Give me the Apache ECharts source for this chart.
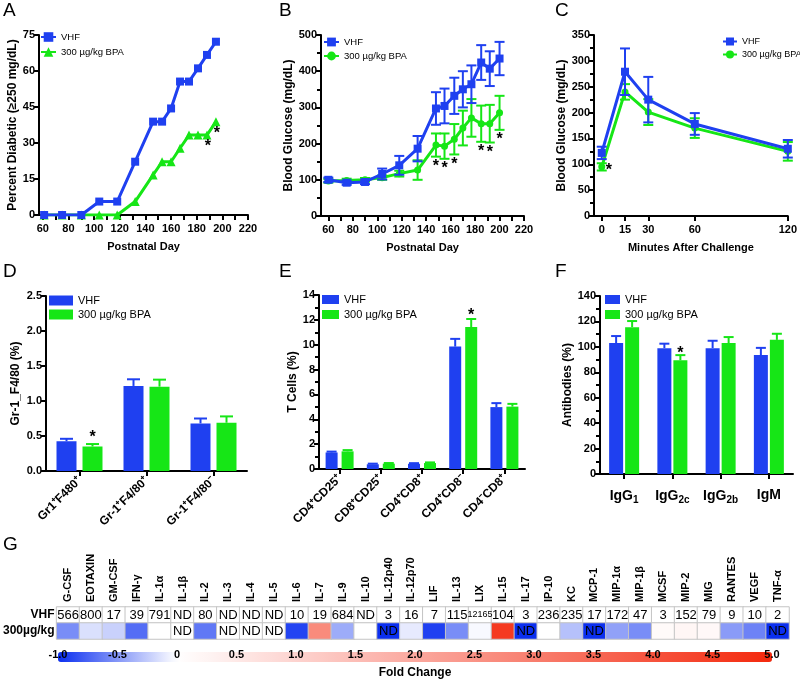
<!DOCTYPE html>
<html><head><meta charset="utf-8">
<script src="https://cdn.jsdelivr.net/npm/echarts@6/dist/echarts.min.js"></script>
<style>html,body{margin:0;padding:0;background:#fff}#c{width:800px;height:680px}</style>
</head><body><div id="c"></div>
<script>
// ---------- DATA ----------
// A: percent diabetic
const daysA = [61,75,90,104,118,132,146,153,160,167,174,181,188,195];
const diabeticVHF = [0,0,0,5.6,5.6,22.2,38.9,38.9,44.4,55.6,55.6,61.1,66.7,72.2];
const diabeticBPA = [0,0,0,0,0,5.6,16.7,22.2,22.2,27.8,33.3,33.3,33.3,38.9];
const sigA = [0,0,0,0,0,0,0,0,0,0,0,0,1,1];
const xLabelsA = [60,80,100,120,140,160,180,200,220];
const xTicksA = [60,70,80,90,100,110,120,130,140,150,160,170,180,190,200,210,220];
// B: blood glucose
const daysB = [60,75,90,104,118,133,148,155,163,170,177,185,192,200];
const glucoseVHF = [100,92,94,116,140,186,297,304,332,350,364,424,407,435];
const glucoseVHFErr = [6,6,6,15,26,35,45,48,50,50,52,48,48,46];
const glucoseBPA = [97,98,100,106,117,127,196,193,212,243,271,255,255,285];
const glucoseBPAErr = [5,5,5,6,8,27,32,35,42,48,52,50,52,47];
const sigB = [0,0,0,0,0,0,1,1,1,0,0,1,1,1];
const xLabelsB = [60,80,100,120,140,160,180,200,220];
const xTicksB = [60,70,80,90,100,110,120,130,140,150,160,170,180,190,200,210,220];
// C: glucose tolerance
const minutesC = [0,15,30,60,120];
const gttVHF = [122,279,225,178,130];
const gttVHFErr = [12,45,44,21,17];
const gttBPA = [95,240,201,170,125];
const gttBPAErr = [7,15,25,19,18];
const sigC = [1,0,0,0,0];
const xLabelsC = [0,15,30,60,120];
// D: Gr-1 / F4/80
const grCats = ['Gr1⁺F480⁺','Gr-1⁺F4/80⁺','Gr-1⁺F4/80⁻'];
const grVHF = [0.425,1.215,0.68];
const grVHFErr = [0.035,0.095,0.07];
const grBPA = [0.35,1.205,0.69];
const grBPAErr = [0.035,0.10,0.09];
const sigD = [1,0,0];
// E: T cells
const tCats = ['CD4⁺CD25⁺','CD8⁺CD25⁺','CD4⁺CD8⁺','CD4⁺CD8⁻','CD4⁻CD8⁺'];
const tVHF = [1.33,0.38,0.42,9.85,4.98];
const tVHFErr = [0.07,0.05,0.05,0.62,0.32];
const tBPA = [1.42,0.43,0.48,11.42,5.02];
const tBPAErr = [0.1,0.05,0.05,0.65,0.22];
const sigE = [0,0,0,1,0];
// F: antibodies
const abCats = ['IgG1','IgG2c','IgG2b','IgM'];
const abVHF = [103,99,99,93.5];
const abVHFErr = [5.5,3.5,5.8,5.7];
const abBPA = [115.5,89.5,103,105.5];
const abBPAErr = [4.8,4,4.7,4.8];
const sigF = [0,1,0,0];
// G: cytokines
const cytokines = ['G-CSF','EOTAXIN','GM-CSF','IFN-γ','IL-1α','IL-1β','IL-2','IL-3','IL-4','IL-5','IL-6','IL-7','IL-9','IL-10','IL-12p40','IL-12p70','LIF','IL-13','LIX','IL-15','IL-17','IP-10','KC','MCP-1','MIP-1α','MIP-1β','MCSF','MIP-2','MIG','RANTES','VEGF','TNF-α'];
const vhfConc = ['566','800','17','39','791','ND','80','ND','ND','ND','10','19','684','ND','3','16','7','115','12165','104','3','236','235','17','172','47','3','152','79','9','10','2'];
const bpaFold = [-0.55,-0.15,-0.22,-0.7,0,0,-0.65,0,0,0,-0.9,2.7,-0.4,0,-1,-0.1,-0.92,-0.55,-0.03,4.6,-1,0,-0.3,-1,-0.45,-0.55,0.12,0.2,0.15,-0.48,-0.6,-1];
const bpaText = ['','','','','','ND','','ND','ND','ND','','','','','ND','','','','','','ND','','','ND','','','','','','','','ND'];
const rowNames = ['300µg/kg','VHF'];
const foldTicks = [-1,-0.5,0,0.5,1,1.5,2,2.5,3,3.5,4,4.5,5];

// ---------- STYLE ----------
const FN = '"Liberation Sans Narrow","Arial Narrow","Liberation Sans",Arial,sans-serif';
const FW = '"Liberation Sans",Arial,sans-serif';
const BLUE = '#1f40f0', GREEN = '#16e616';
const AX = {show:true, onZero:false, lineStyle:{color:'#000', width:2}};
const TK = {show:true, length:5, lineStyle:{color:'#000', width:2}};
const LB = {color:'#000', fontFamily:FN, fontWeight:'bold', fontSize:11};
const NM = {color:'#000', fontFamily:FN, fontWeight:'bold', fontSize:12};
const NMX = {color:'#000', fontFamily:FN, fontWeight:'bold', fontSize:11};
const nameMap = n => n.endsWith('VHF') ? 'VHF' : '300 µg/kg BPA';

function valX(gi, min, max, labels, ticks, name) {
  return {type:'value', gridIndex:gi, min, max, splitLine:{show:false}, axisLine:AX,
    axisTick:Object.assign({}, TK, {customValues:ticks}),
    axisLabel:Object.assign({}, LB, {customValues:labels, margin:8}),
    name, nameLocation:'middle', nameGap:26, nameTextStyle:NMX};
}
function valY(gi, max, interval, name, gap, fmt, minor) {
  return {type:'value', gridIndex:gi, min:0, max, interval, splitLine:{show:false}, axisLine:AX, axisTick:TK,
    minorTick: minor ? {show:true, splitNumber:2, length:4, lineStyle:{color:'#000', width:2}} : {show:false},
    minorSplitLine:{show:false},
    axisLabel:Object.assign({}, LB, {margin:4, formatter:fmt}),
    name, nameLocation:'middle', nameGap:gap, nameRotate:90, nameTextStyle:NM};
}
function catX(gi, data, rotate, fmt, rich, margin) {
  return {type:'category', gridIndex:gi, data, axisLine:AX, axisTick:Object.assign({}, TK, {alignWithLabel:true}),
    axisLabel:Object.assign({}, LB, {fontSize:12, rotate, interval:0, margin, formatter:fmt, rich})};
}
function errSeries(gi, xs, vals, errs, color, o) {
  return {type:'custom', xAxisIndex:gi, yAxisIndex:gi, silent:true, z:o.z,
    data: xs.map((x,i)=>[x, vals[i], errs[i]]),
    renderItem: (p, api) => {
      const x = api.value(0), v = api.value(1), e = api.value(2);
      const t = api.coord([x, v + e]), b = api.coord([x, o.up ? v : v - e]);
      const px = t[0] + (o.dx || 0), hw = o.cap / 2;
      const st = {stroke:color, lineWidth:2};
      const ch = [
        {type:'line', shape:{x1:px, y1:t[1], x2:px, y2:b[1]}, style:st},
        {type:'line', shape:{x1:px-hw, y1:t[1], x2:px+hw, y2:t[1]}, style:st}
      ];
      if (!o.up) ch.push({type:'line', shape:{x1:px-hw, y1:b[1], x2:px+hw, y2:b[1]}, style:st});
      return {type:'group', children:ch};
    }};
}
function starSeries(gi, pts, dx, dy) {
  return {type:'custom', xAxisIndex:gi, yAxisIndex:gi, silent:true, z:10, data:pts,
    renderItem: (p, api) => {
      const c = api.coord([api.value(0), api.value(1)]);
      return {type:'text', x:c[0]+dx, y:c[1]+dy,
        style:{text:'*', fill:'#000', font:'bold 16px "Liberation Sans", Arial', align:'center', verticalAlign:'middle'}};
    }};
}
function legendAt(left, top, names, iw, ih, gap, fs, icon) {
  const l = {left, top, orient:'vertical', padding:0, itemWidth:iw, itemHeight:ih, itemGap:gap,
    selectedMode:false, data:names, formatter:nameMap,
    textStyle:{color:'#000', fontFamily:FN, fontSize:fs}};
  if (icon) l.icon = icon;
  return l;
}

// ---------- SERIES ----------
const series = [];
// A
series.push({name:'A-BPA', type:'line', xAxisIndex:0, yAxisIndex:0, z:2, data:daysA.map((d,i)=>[d, diabeticBPA[i]]),
  symbol:'triangle', symbolSize:9, itemStyle:{color:GREEN}, lineStyle:{color:GREEN, width:3}});
series.push({name:'A-VHF', type:'line', xAxisIndex:0, yAxisIndex:0, z:3, data:daysA.map((d,i)=>[d, diabeticVHF[i]]),
  symbol:'rect', symbolSize:8, itemStyle:{color:BLUE}, lineStyle:{color:BLUE, width:3}});
series.push(starSeries(0, daysA.map((d,i)=>[d, diabeticBPA[i]]).filter((_, i)=>sigA[i]), 1, 12));
// B
series.push({name:'B-BPA', type:'line', xAxisIndex:1, yAxisIndex:1, z:2, data:daysB.map((d,i)=>[d, glucoseBPA[i]]),
  symbol:'circle', symbolSize:7, itemStyle:{color:GREEN}, lineStyle:{color:GREEN, width:3}});
series.push(errSeries(1, daysB, glucoseBPA, glucoseBPAErr, GREEN, {cap:10, z:2}));
series.push({name:'B-VHF', type:'line', xAxisIndex:1, yAxisIndex:1, z:3, data:daysB.map((d,i)=>[d, glucoseVHF[i]]),
  symbol:'rect', symbolSize:8, itemStyle:{color:BLUE}, lineStyle:{color:BLUE, width:3}});
series.push(errSeries(1, daysB, glucoseVHF, glucoseVHFErr, BLUE, {cap:10, z:3}));
series.push(starSeries(1, daysB.map((d,i)=>[d, glucoseBPA[i]-glucoseBPAErr[i]]).filter((_, i)=>sigB[i]), 0, 10));
// C
series.push({name:'C-BPA', type:'line', xAxisIndex:2, yAxisIndex:2, z:2, data:minutesC.map((d,i)=>[d, gttBPA[i]]),
  symbol:'circle', symbolSize:7, itemStyle:{color:GREEN}, lineStyle:{color:GREEN, width:3}});
series.push(errSeries(2, minutesC, gttBPA, gttBPAErr, GREEN, {cap:10, z:2}));
series.push({name:'C-VHF', type:'line', xAxisIndex:2, yAxisIndex:2, z:3, data:minutesC.map((d,i)=>[d, gttVHF[i]]),
  symbol:'rect', symbolSize:8, itemStyle:{color:BLUE}, lineStyle:{color:BLUE, width:3}});
series.push(errSeries(2, minutesC, gttVHF, gttVHFErr, BLUE, {cap:10, z:3}));
series.push(starSeries(2, minutesC.map((d,i)=>[d, gttBPA[i]]).filter((_, i)=>sigC[i]), 7, 4));
// bar panels
function barPanel(gi, cats, vV, vE, bV, bE, sig, bw, gap, cap, starDy) {
  const idx = cats.map((_, i)=>i);
  const off = (bw + gap) / 2;
  series.push({name:'P'+gi+'-VHF', type:'bar', xAxisIndex:gi, yAxisIndex:gi, data:vV, barWidth:bw, barGap:(gap/bw*100)+'%',
    itemStyle:{color:BLUE}, z:2});
  series.push({name:'P'+gi+'-BPA', type:'bar', xAxisIndex:gi, yAxisIndex:gi, data:bV, barWidth:bw, barGap:(gap/bw*100)+'%',
    itemStyle:{color:GREEN}, z:2});
  series.push(errSeries(gi, idx, vV, vE, BLUE, {cap, up:true, dx:-off, z:3}));
  series.push(errSeries(gi, idx, bV, bE, GREEN, {cap, up:true, dx:off, z:3}));
  series.push(starSeries(gi, idx.map(i=>[i, bV[i]+bE[i]]).filter((_, i)=>sig[i]), off, starDy));
}
barPanel(3, grCats, grVHF, grVHFErr, grBPA, grBPAErr, sigD, 20, 6, 13, -6);
barPanel(4, tCats, tVHF, tVHFErr, tBPA, tBPAErr, sigE, 12, 4, 10, -3);
barPanel(5, abCats, abVHF, abVHFErr, abBPA, abBPAErr, sigF, 14, 2, 10, -2);
// G heatmap
const heatData = [];
cytokines.forEach((c, i) => {
  const vItem = {value:[i, 1, 0], label:{formatter:vhfConc[i]}};
  if (vhfConc[i].length > 4) vItem.label.fontSize = 9;
  heatData.push(vItem);
  heatData.push({value:[i, 0, bpaFold[i]], label:{formatter:bpaText[i] || ' '}});
});
const heatIdx = series.length;
series.push({type:'heatmap', xAxisIndex:6, yAxisIndex:6, data:heatData, silent:true,
  itemStyle:{borderColor:'#c4c4c4', borderWidth:1},
  label:{show:true, color:'#000', fontFamily:FW, fontSize:13},
  emphasis:{disabled:true}});
// G column headers (rotated, reading upward, anchored just above the VHF row)
series.push({type:'custom', xAxisIndex:6, yAxisIndex:6, silent:true, z:10,
  data: cytokines.map((c, i) => [i, 1, c]),
  renderItem: (p, api) => {
    const c = api.coord([api.value(0), api.value(1)]);
    const h = api.size([0, 1])[1];
    return {type:'text', x:c[0], y:c[1] - h / 2 - 5, rotation:Math.PI / 2,
      style:{text:cytokines[p.dataIndex], fill:'#000', font:'bold 11px "Liberation Sans", Arial', align:'left', verticalAlign:'middle'}};
  }});

// ---------- OPTION ----------
const letter = (t, left, top) => ({text:t, left, top, padding:0,
  textStyle:{fontFamily:FW, fontWeight:'normal', fontSize:19, color:'#000'}});
const igFmt = v => v.startsWith('IgG') ? '{m|IgG}{s|' + v.slice(3) + '}' : '{m|' + v + '}';
const igRich = {m:{fontFamily:FN, fontWeight:'bold', fontSize:14, color:'#000'},
  s:{fontFamily:FN, fontWeight:'bold', fontSize:10, color:'#000', padding:[7,0,0,0]}};

const option = {
  animation:false,
  backgroundColor:'#fff',
  textStyle:{fontFamily:FN},
  title:[letter('A',3,1), letter('B',279,1), letter('C',555,1), letter('D',3,262), letter('E',279,262), letter('F',555,262), letter('G',3,535)],
  grid:[
    {left:39, top:35, width:209, height:180},
    {left:321, top:35, width:203, height:181},
    {left:594, top:35, width:195, height:181},
    {left:46, top:296, width:201, height:175},
    {left:319, top:295, width:206, height:174},
    {left:600, top:296, width:193, height:178},
    {left:50, top:607, width:739, height:32},
    {left:58, top:652, width:714, height:10}
  ],
  xAxis:[
    valX(0, 57, 220, xLabelsA, xTicksA, 'Postnatal Day'),
    valX(1, 54, 220, xLabelsB, xTicksB, 'Postnatal Day'),
    valX(2, -5, 120, xLabelsC, xLabelsC, 'Minutes After Challenge'),
    catX(3, grCats, 45, null, null, 8),
    catX(4, tCats, 45, null, null, 8),
    catX(5, abCats, 0, igFmt, igRich, 14),
    {type:'category', gridIndex:6, data:cytokines, position:'top', axisLine:{show:false}, axisTick:{show:false},
      axisLabel:{show:false}},
    {type:'value', gridIndex:7, z:10, min:-1, max:5, interval:0.5, axisLine:{show:false}, axisTick:{show:false}, splitLine:{show:false},
      axisLabel:{margin:-12, color:'#000', fontFamily:FW, fontWeight:'bold', fontSize:11, customValues:foldTicks,
        formatter: v => v === 0 ? '0' : v.toFixed(1)},
      name:'Fold Change', nameLocation:'middle', nameGap:6, nameTextStyle:{color:'#000', fontFamily:FW, fontWeight:'bold', fontSize:12}}
  ],
  yAxis:[
    valY(0, 75, 15, 'Percent Diabetic (≥250 mg/dL)', 20, null, false),
    valY(1, 500, 100, 'Blood Glucose (mg/dL)', 24, null, true),
    valY(2, 350, 50, 'Blood Glucose (mg/dL)', 21, null, true),
    valY(3, 2.5, 0.5, 'Gr-1_F4/80 (%)', 24, v => v.toFixed(1), false),
    valY(4, 14, 2, 'T Cells (%)', 20, null, true),
    valY(5, 140, 20, 'Antibodies (%)', 25, null, true),
    {type:'category', gridIndex:6, data:rowNames, axisLine:{show:false}, axisTick:{show:false},
      axisLabel:{margin:2, color:'#000', fontFamily:FW, fontWeight:'bold', fontSize:12}},
    {type:'value', gridIndex:7, show:false, min:0, max:1}
  ],
  legend:[
    legendAt(40, 32, ['A-VHF','A-BPA'], 15, 12, 5, 9.5),
    legendAt(323, 37, ['B-VHF','B-BPA'], 15, 11, 4, 9.5),
    legendAt(722, 37, ['C-VHF','C-BPA'], 14, 10, 4, 9),
    legendAt(49, 295, ['P3-VHF','P3-BPA'], 24, 10, 3, 11, 'rect'),
    legendAt(322, 294, ['P4-VHF','P4-BPA'], 17, 9, 4, 11, 'rect'),
    legendAt(605, 294, ['P5-VHF','P5-BPA'], 15, 9, 4, 11, 'rect')
  ],
  visualMap:[{type:'continuous', min:-1, max:5, seriesIndex:heatIdx, dimension:2, orient:'horizontal', z:1,
    left:58, top:652, itemWidth:10, itemHeight:714, padding:0, calculable:false, hoverLink:false,
    inRange:{color:['#0b2ff0','#ffffff','#fdd3cf','#fba89e','#f87e6e','#f6533d','#f4290d']}}],
  series
};
const chart = echarts.init(document.getElementById('c'), null, {renderer:'canvas'});
chart.setOption(option);
</script></body></html>
